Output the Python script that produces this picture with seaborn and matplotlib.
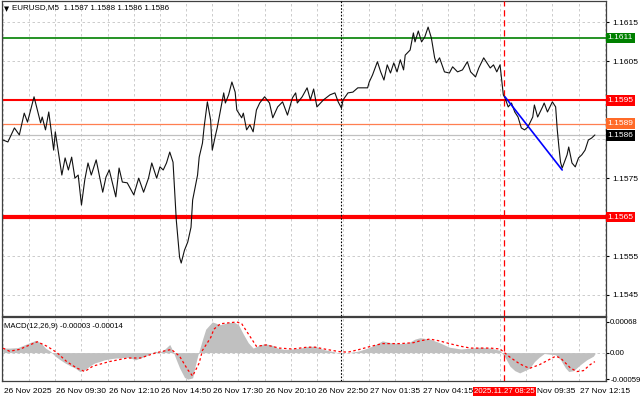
import numpy as np
import pandas as pd
import matplotlib
matplotlib.use("Agg")
import matplotlib.pyplot as plt
import seaborn as sns
from matplotlib.transforms import blended_transform_factory as btf, ScaledTranslation

sns.set_style("white")
plt.rcParams['font.family'] = ['Liberation Sans', 'DejaVu Sans']

# ---------------- data ----------------
title_text = "EURUSD,M5  1.1587 1.1588 1.1586 1.1586"
macd_text = "MACD(12,26,9) -0.00003 -0.00014"

price_bars = [0, 3, 7, 10, 13, 15, 18, 19, 21, 23, 24, 26, 28, 31, 32, 36, 38, 40, 42, 44,
              46, 48, 50, 52, 54, 57, 61, 63, 65, 69, 71, 73, 76, 80, 83, 86, 89, 91, 94, 96,
              98, 100, 102, 104, 106, 108, 109, 111, 113, 115, 116, 119, 120, 122, 123, 125, 127, 128, 130, 131,
              135, 136, 138, 140, 142, 143, 146, 147, 149, 151, 153, 155, 157, 160, 163, 165, 168, 171, 174, 177,
              179, 180, 183, 186, 188, 190, 192, 196, 200, 203, 205, 207, 208, 211, 214, 217, 223, 224, 226, 229,
              231, 233, 235, 237, 239, 241, 243, 245, 246, 249, 251, 252, 254, 256, 258, 260, 262, 264, 265, 267,
              270, 273, 275, 278, 281, 284, 286, 289, 291, 294, 296, 298, 300, 302, 304, 305, 306, 307, 309, 311,
              313, 315, 317, 319, 321, 324, 325, 327, 330, 331, 333, 336, 338, 339, 340, 341, 342, 345, 346, 348,
              350, 352, 354, 356, 358, 360, 362]
price_close = [1.15848, 1.15843, 1.15879, 1.15861, 1.15917, 1.15894, 1.15943, 1.15959, 1.15925, 1.15892,
               1.15907, 1.15874, 1.15920, 1.15822, 1.15869, 1.15758, 1.15802, 1.15771, 1.15804, 1.15750,
               1.15758, 1.15681, 1.15745, 1.15789, 1.15758, 1.15797, 1.15714, 1.15753, 1.15771, 1.15702,
               1.15776, 1.15740, 1.15738, 1.15707, 1.15750, 1.15714, 1.15750, 1.15789, 1.15750, 1.15779,
               1.15771, 1.15789, 1.15817, 1.15791, 1.15642, 1.15547, 1.15532, 1.15565, 1.15586, 1.15624,
               1.15694, 1.15758, 1.15804, 1.15840, 1.15881, 1.15946, 1.15899, 1.15822, 1.15861, 1.15879,
               1.15969, 1.15943, 1.15964, 1.15997, 1.15971, 1.15925, 1.15905, 1.15917, 1.15874, 1.15887,
               1.15869, 1.15925, 1.15943, 1.15959, 1.15943, 1.15905, 1.15933, 1.15946, 1.15912, 1.15956,
               1.15969, 1.15943, 1.15959, 1.15982, 1.15951, 1.15979, 1.15933, 1.15951, 1.15964, 1.15969,
               1.15946, 1.15930, 1.15951, 1.15969, 1.15971, 1.15982, 1.15982, 1.15997, 1.16015, 1.16049,
               1.16023, 1.16002, 1.16041, 1.16020, 1.16046, 1.16023, 1.16054, 1.16028, 1.16066, 1.16079,
               1.16123, 1.16100, 1.16128, 1.16100, 1.16113, 1.16138, 1.16110, 1.16059, 1.16046, 1.16059,
               1.16023, 1.16020, 1.16036, 1.16023, 1.16028, 1.16049, 1.16023, 1.16010, 1.16033, 1.16059,
               1.16046, 1.16033, 1.16041, 1.16023, 1.16041, 1.16002, 1.15964, 1.15956, 1.15933, 1.15943,
               1.15920, 1.15907, 1.15879, 1.15874, 1.15881, 1.15907, 1.15938, 1.15907, 1.15933, 1.15943,
               1.15920, 1.15946, 1.15933, 1.15874, 1.15830, 1.15791, 1.15776, 1.15810, 1.15830, 1.15789,
               1.15779, 1.15802, 1.15810, 1.15822, 1.15848, 1.15853, 1.15861]

hist_bars = [0, 4, 9, 17, 20, 23, 26, 29, 32, 35, 38, 41, 44, 47, 50, 53, 56, 59, 62, 65,
             69, 72, 75, 78, 81, 84, 87, 90, 93, 96, 99, 102, 104, 106, 108, 111, 113, 116, 117, 119,
             122, 124, 127, 128, 133, 137, 141, 144, 147, 150, 153, 156, 160, 165, 168, 172, 177, 182, 187, 191,
             196, 201, 206, 211, 217, 223, 228, 232, 237, 243, 248, 252, 255, 261, 267, 273, 280, 286, 292, 298,
             304, 307, 310, 313, 316, 319, 322, 325, 328, 331, 338, 341, 344, 346, 349, 353, 357, 361, 362]
hist_vals = [0.00010, 0.00010, 0.00011, 0.00023, 0.00027, 0.00022, 0.00010, 0.00003, -0.00008, -0.00016,
             -0.00023, -0.00029, -0.00034, -0.00042, -0.00038, -0.00030, -0.00023, -0.00020, -0.00016, -0.00014,
             -0.00012, -0.00012, -0.00010, -0.00012, -0.00016, -0.00012, -0.00008, -0.00002, 0.00003, 0.00001,
             0.00008, 0.00018, 0.00003, -0.00016, -0.00034, -0.00055, -0.00059, -0.00056, -0.00038, -0.00008,
             0.00029, 0.00052, 0.00064, 0.00068, 0.00062, 0.00066, 0.00068, 0.00062, 0.00041, 0.00022,
             0.00010, 0.00015, 0.00020, 0.00016, 0.00010, 0.00007, 0.00008, 0.00010, 0.00014, 0.00014,
             0.00007, 0.00003, -0.00001, 0.00000, 0.00003, 0.00010, 0.00018, 0.00026, 0.00022, 0.00020,
             0.00022, 0.00030, 0.00033, 0.00030, 0.00022, 0.00012, 0.00008, 0.00010, 0.00012, 0.00010,
             0.00005, -0.00010, -0.00030, -0.00040, -0.00045, -0.00040, -0.00035, -0.00020, -0.00010, -0.00002,
             -0.00005, -0.00016, -0.00034, -0.00042, -0.00040, -0.00027, -0.00016, -0.00008, -0.00003]

signal_bars = [0, 4, 10, 17, 21, 27, 33, 39, 45, 50, 55, 65, 76, 84, 94, 103, 108, 113, 116, 120,
               122, 127, 129, 133, 143, 146, 155, 161, 169, 177, 186, 191, 198, 206, 211, 218, 224, 232, 243, 251,
               255, 261, 267, 273, 280, 286, 298, 304, 310, 316, 322, 328, 338, 341, 347, 351, 355, 359, 362]
signal_vals = [0.00010, 0.00003, 0.00007, 0.00018, 0.00024, 0.00014, 0.00000, -0.00020, -0.00034, -0.00042,
               -0.00030, -0.00020, -0.00012, -0.00012, 0.00000, 0.00007, -0.00008, -0.00038, -0.00052, -0.00023,
               0.00005, 0.00033, 0.00052, 0.00064, 0.00068, 0.00064, 0.00014, 0.00017, 0.00010, 0.00008,
               0.00012, 0.00012, 0.00007, 0.00002, 0.00001, 0.00007, 0.00013, 0.00020, 0.00020, 0.00022,
               0.00026, 0.00030, 0.00026, 0.00020, 0.00014, 0.00010, 0.00010, 0.00008, -0.00010, -0.00025,
               -0.00035, -0.00027, -0.00008, -0.00012, -0.00034, -0.00042, -0.00040, -0.00027, -0.00020]

trend_bars = [307, 342]
trend_prices = [1.15959, 1.15771]

level_values = [1.1611, 1.1595, 1.1589, 1.1565]
level_labels = ["1.1611", "1.1595", "1.1589", "1.1565"]
bid_value = 1.1586
bid_label = "1.1586"

price_ticks = [1.1545, 1.1555, 1.1565, 1.1575, 1.1585, 1.1595, 1.1605, 1.1615]
price_tick_labels = ["1.1545", "1.1555", "", "1.1575", "", "", "1.1605", "1.1615"]

macd_ticks = [-0.00059, 0.0, 0.00068]
macd_tick_labels = ["-0.00059", "0.00", "0.00068"]

time_ticks = [0, 32, 64, 96, 128, 160, 192, 224, 256, 288, 320, 352]
time_labels = ["26 Nov 2025", "26 Nov 09:30", "26 Nov 12:10", "26 Nov 14:50", "26 Nov 17:30",
               "26 Nov 20:10", "26 Nov 22:50", "27 Nov 01:35", "27 Nov 04:15", "",
               "Nov 09:35", "27 Nov 12:15"]
grid_step = 16
separator_bar = 206.5
cursor_bar = 306.5
cursor_label = "2025.11.27 08:25"

# ---------------- styling ----------------
level_styles = [dict(color="#008000", lw=1.2, box="#008000"),
                dict(color="#ff0000", lw=1.5, box="#ff0000"),
                dict(color="#ff7f50", lw=0.9, box="#ff6a28"),
                dict(color="#ff0000", lw=3.0, box="#ff0000")]
grid_kw = dict(color="#c4c4c4", lw=0.6, linestyle=(0, (3, 3)))
FS = 6.0

W, H = 640, 401
fig = plt.figure(figsize=(W / 100, H / 100), dpi=100)
fig.patch.set_facecolor("white")
ax = fig.add_axes([2 / W, 1 - 316 / H, 604 / W, 315 / H])
axm = fig.add_axes([2 / W, 1 - 381 / H, 604 / W, 64 / H], sharex=ax)

x_lo, x_hi = -0.6, 368.8

# ---- main panel ----
df = pd.DataFrame({"bar": price_bars, "close": price_close})
ax.set_xlim(x_lo, x_hi)
ax.set_ylim(1.15396, 1.16205)
ax.set_yticks(price_ticks)
ax.set_yticklabels(price_tick_labels)
ax.yaxis.tick_right()
ax.set_xticks(np.arange(0, x_hi, grid_step), minor=True)
ax.grid(True, which="both", axis="x", **grid_kw)
ax.grid(True, which="major", axis="y", **grid_kw)
ax.tick_params(axis="y", which="major", labelsize=6, length=2.5, pad=2, colors="black", direction="out")
ax.tick_params(axis="x", which="both", length=0, labelbottom=False)

ax.axhline(bid_value, color="#c0c0c0", lw=0.9, zorder=2)
for val, st in zip(level_values, level_styles):
    ax.axhline(val, color=st["color"], lw=st["lw"], zorder=2)

sns.lineplot(data=df, x="bar", y="close", ax=ax, color="#111111", lw=0.8, zorder=4)
ax.plot(trend_bars, trend_prices, color="#0000ff", lw=1.2, zorder=5)

ax.axvline(separator_bar, color="black", lw=0.8, linestyle=(0, (1.5, 1.5)), zorder=3)
ax.axvline(cursor_bar, color="#ff0000", lw=0.9, linestyle=(0, (5, 3)), zorder=3)

tr = btf(ax.transAxes, ax.transData)
for val, lab, st in zip(level_values, level_labels, level_styles):
    ax.text(1.0025, val, lab, transform=tr, ha="left", va="center", color="white", fontsize=6,
            bbox=dict(boxstyle="square,pad=0.22", fc=st["box"], ec="none"), clip_on=False, zorder=10)
ax.text(1.0025, bid_value, bid_label, transform=tr, ha="left", va="center", color="white", fontsize=6,
        bbox=dict(boxstyle="square,pad=0.22", fc="black", ec="none"), clip_on=False, zorder=10)

ax.text(0.004, 0.985, "\u25bc", transform=ax.transAxes, ha="left", va="top", fontsize=4.8,
        family=["DejaVu Sans"], color="black")
ax.text(0.017, 0.99, title_text, transform=ax.transAxes, ha="left", va="top", fontsize=5.8, color="black")

for sp in ax.spines.values():
    sp.set_color("#404040")
    sp.set_linewidth(0.9)

# ---- MACD panel ----
axm.set_ylim(-0.00063, 0.00079)
axm.fill_between(hist_bars, 0, hist_vals, color="#c0c0c0", lw=0, zorder=2)
sns.lineplot(x=signal_bars, y=signal_vals, ax=axm, color="#ff0000", lw=0.9,
             linestyle=(0, (2, 2)), zorder=4)
axm.set_xlim(x_lo, x_hi)
axm.set_yticks(macd_ticks)
axm.set_yticklabels(macd_tick_labels)
axm.yaxis.tick_right()
axm.set_xticks(time_ticks)
axm.set_xticklabels(time_labels)
for lbl in axm.get_xticklabels():
    lbl.set_horizontalalignment("left")
axm.grid(True, which="both", axis="x", **grid_kw)
axm.axhline(0, zorder=1, **grid_kw)
axm.tick_params(axis="y", labelsize=5.6, length=2, pad=1, colors="black")
axm.tick_params(axis="x", which="major", labelsize=FS, length=3, pad=2, colors="black", direction="out")
axm.tick_params(axis="x", which="minor", length=0)
axm.set_xlabel("")
axm.set_ylabel("")
ax.set_xlabel("")
ax.set_ylabel("")
axm.axvline(separator_bar, color="black", lw=0.8, linestyle=(0, (1.5, 1.5)), zorder=3)
axm.axvline(cursor_bar, color="#ff0000", lw=0.9, linestyle=(0, (5, 3)), zorder=3)
axm.text(0.004, 0.90, macd_text, transform=axm.transAxes, ha="left", va="top", fontsize=5.6, color="black")
axm.text(cursor_bar, -0.16, cursor_label, transform=btf(axm.transData, axm.transAxes), ha="center",
         va="center", color="white", fontsize=5.7,
         bbox=dict(boxstyle="square,pad=0.15", fc="#ff0000", ec="none"), clip_on=False, zorder=10)
for sp in axm.spines.values():
    sp.set_color("#404040")
    sp.set_linewidth(0.9)

# small right offset of the time labels; the 09:35 label starts right after the time box
fig.canvas.draw()
labels = axm.get_xticklabels()
for k, lbl in enumerate(labels):
    shift = 11 if k == 10 else 1
    lbl.set_transform(lbl.get_transform() + ScaledTranslation(shift / 100, 0, fig.dpi_scale_trans))

fig.savefig("out.png", dpi=100)
